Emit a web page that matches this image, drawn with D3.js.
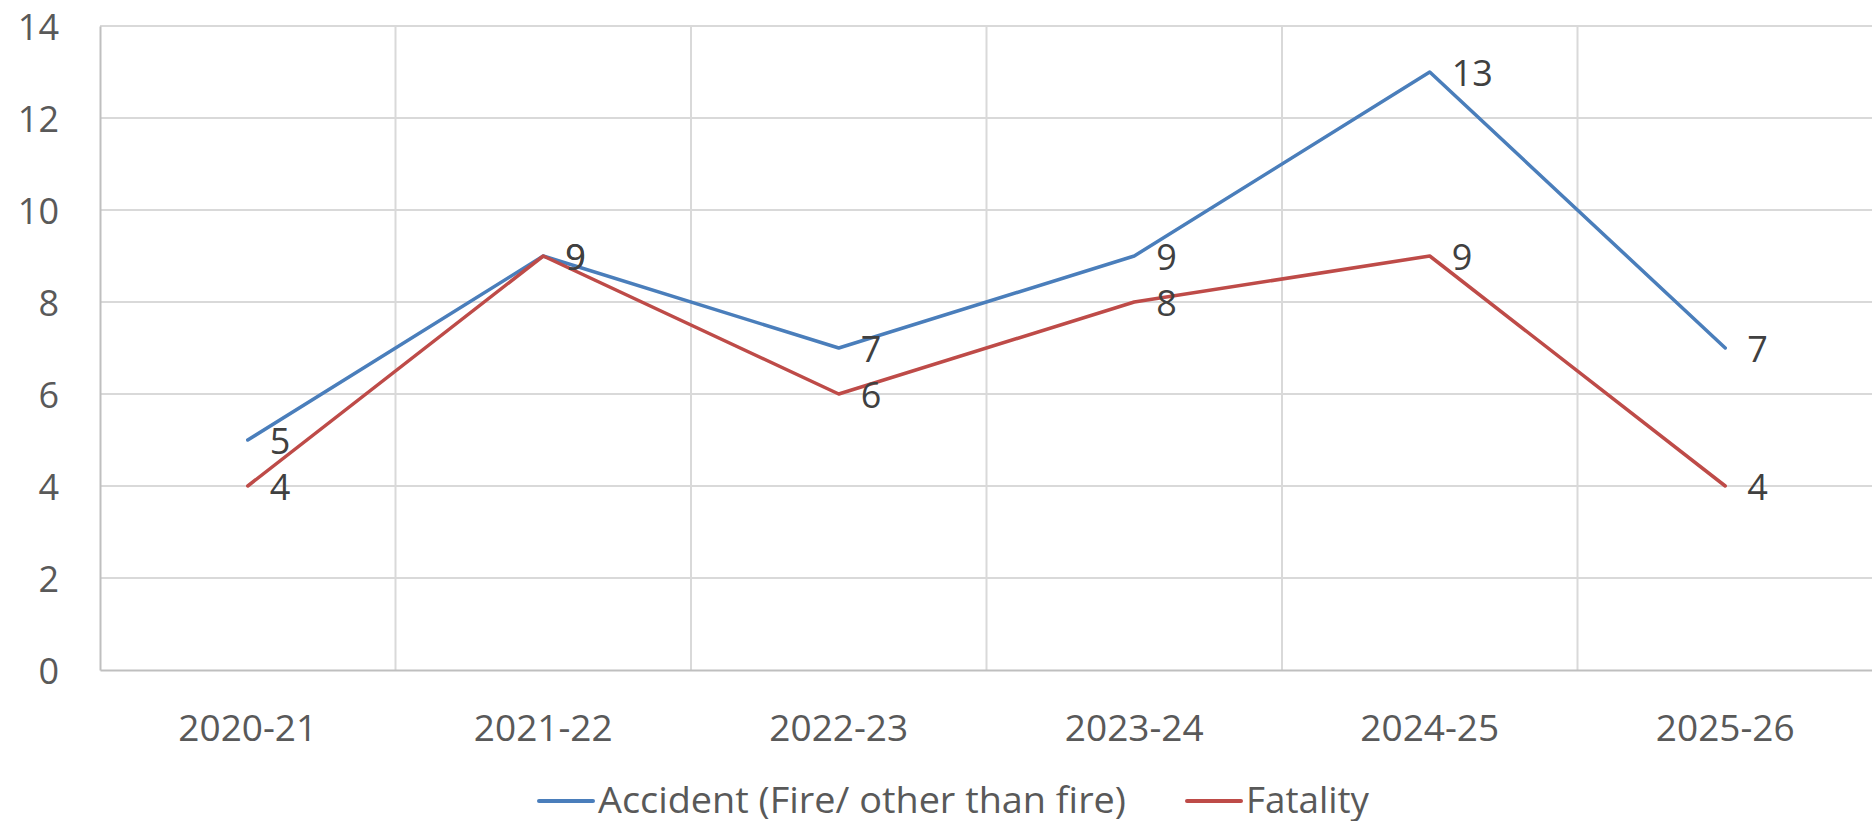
<!DOCTYPE html>
<html>
<head>
<meta charset="utf-8">
<script src="https://cdn.jsdelivr.net/npm/d3@7/dist/d3.min.js"></script>
<style>
    body { margin: 0; background: #fff; }
    svg { display: block; font-family: "Open Sans", "Liberation Sans", sans-serif; }
</style>
</head>
<body>
<div id="chart"></div>
<script>
    // DATA
    var years = ["2020-21", "2021-22", "2022-23", "2023-24", "2024-25", "2025-26"];
    var accidents = [5, 9, 7, 9, 13, 7];
    var fatalities = [4, 9, 6, 8, 9, 4];
    var yTicks = [0, 2, 4, 6, 8, 10, 12, 14];
    var seriesNames = ["Accident (Fire/ other than fire)", "Fatality"];

    var W = 1872, H = 821;
    var plot = { left: 100, right: 1873, top: 26, bottom: 670 };

    var svg = d3.select("#chart").append("svg")
        .attr("width", W)
        .attr("height", H);

    var x = d3.scaleBand().domain(years).range([plot.left, plot.right]).padding(0);
    var y = d3.scaleLinear().domain([0, 14]).range([plot.bottom, plot.top]);
    var cx = function(d) { return x(d) + x.bandwidth() / 2; };

    // grid
    var grid = svg.append("g");
    grid.selectAll(".hgrid").data(yTicks.filter(function(t) { return t > 0; }))
        .enter().append("line")
        .attr("x1", plot.left).attr("x2", plot.right)
        .attr("y1", function(d) { return y(d); }).attr("y2", function(d) { return y(d); })
        .attr("stroke", "#d9d9d9").attr("stroke-width", 2);
    grid.selectAll(".vgrid").data(years.slice(1))
        .enter().append("line")
        .attr("x1", function(d) { return x(d); }).attr("x2", function(d) { return x(d); })
        .attr("y1", plot.top).attr("y2", plot.bottom)
        .attr("stroke", "#d9d9d9").attr("stroke-width", 2);

    // axes
    var yAxis = svg.append("g")
        .attr("transform", "translate(" + plot.left + ",0)")
        .call(d3.axisLeft(y).tickValues(yTicks).tickSize(0).tickPadding(41));
    yAxis.select(".domain").attr("stroke", "#bfbfbf").attr("stroke-width", 2);
    yAxis.selectAll("text")
        .attr("font-size", 36).attr("fill", "#595959")
        .attr("font-family", "Open Sans, sans-serif")
        .attr("dy", null).attr("dominant-baseline", "central");

    var xAxis = svg.append("g")
        .attr("transform", "translate(0," + plot.bottom + ")")
        .call(d3.axisBottom(x).tickSize(0));
    xAxis.select(".domain").attr("stroke", "#bfbfbf").attr("stroke-width", 2);
    xAxis.selectAll("text")
        .attr("font-size", 37).attr("fill", "#595959")
        .attr("font-family", "Open Sans, sans-serif")
        .attr("y", 56).attr("dy", null).attr("dominant-baseline", "central");

    // lines
    var series = [
        { name: seriesNames[0], values: accidents, color: "#4a7ebb" },
        { name: seriesNames[1], values: fatalities, color: "#be4b48" }
    ];

    var line = d3.line()
        .x(function(d, i) { return cx(years[i]); })
        .y(function(d) { return y(d); });

    series.forEach(function(s) {
        svg.append("path")
            .datum(s.values)
            .attr("d", line)
            .attr("fill", "none")
            .attr("stroke", s.color)
            .attr("stroke-width", 3.5)
            .attr("stroke-linejoin", "round")
            .attr("stroke-linecap", "round");
    });

    // data labels
    series.forEach(function(s) {
        svg.append("g").selectAll("text")
            .data(s.values)
            .enter().append("text")
            .attr("x", function(d, i) { return cx(years[i]) + 22; })
            .attr("y", function(d) { return y(d); })
            .attr("dominant-baseline", "central")
            .attr("font-size", 36)
            .attr("fill", "#404040")
            .text(function(d) { return d; });
    });

    // legend
    var legendItems = [
        { x: 539, textLen: 528 },
        { x: 1187, textLen: 123 }
    ];
    var legend = svg.append("g");
    series.forEach(function(s, i) {
        var it = legendItems[i];
        legend.append("line")
            .attr("x1", it.x).attr("x2", it.x + 54)
            .attr("y1", 801).attr("y2", 801)
            .attr("stroke", s.color).attr("stroke-width", 4)
            .attr("stroke-linecap", "round");
        legend.append("text")
            .attr("x", it.x + 59).attr("y", 813)
            .attr("font-size", 36)
            .attr("fill", "#595959")
            .attr("textLength", it.textLen)
            .attr("lengthAdjust", "spacingAndGlyphs")
            .text(s.name);
    });
</script>
</body>
</html>
